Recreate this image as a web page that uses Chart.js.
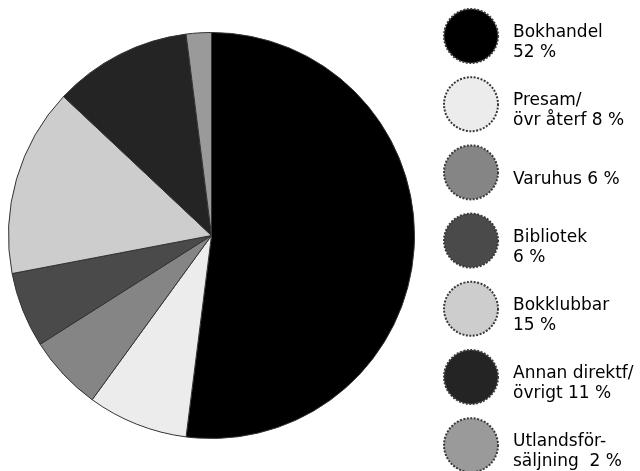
<!DOCTYPE html>
<html>
<head>
<meta charset="utf-8">
<script src="https://cdn.jsdelivr.net/npm/chart.js@4/dist/chart.umd.min.js"></script>
<style>
  html, body { margin: 0; padding: 0; background: #fff; }
  #wrap { position: relative; width: 640px; height: 471px; }
</style>
</head>
<body>
<div id="wrap"><canvas id="paj"></canvas></div>
<script>
// Data
const kategorier = ["Bokhandel", "Presam/övr återf", "Varuhus", "Bibliotek", "Bokklubbar", "Annan direktf/övrigt", "Utlandsförsäljning"];
const andelar = [52, 8, 6, 6, 15, 11, 2];
const etiketter = [
  ["Bokhandel", "52 %"],
  ["Presam/", "övr återf 8 %"],
  ["Varuhus 6 %"],
  ["Bibliotek", "6 %"],
  ["Bokklubbar", "15 %"],
  ["Annan direktf/", "övrigt 11 %"],
  ["Utlandsför-", "säljning  2 %"]
];
const farger = ["#000000", "#ececec", "#858585", "#4a4a4a", "#cdcdcd", "#242424", "#9a9a9a"];

// Legend ritad på canvas
const legendPlugin = {
  id: "sidLegend",
  afterDraw(chart) {
    const ctx = chart.ctx;
    const x = 471;
    const r = 27;
    ctx.save();
    etiketter.forEach((rader, i) => {
      const cy = 36 + i * 68.2;
      ctx.beginPath();
      ctx.arc(x, cy, r, 0, Math.PI * 2);
      ctx.fillStyle = farger[i];
      ctx.fill();
      ctx.lineWidth = 2;
      ctx.strokeStyle = "#3a3a3a";
      ctx.setLineDash([2, 1.5]);
      ctx.stroke();
      ctx.setLineDash([]);

      ctx.fillStyle = "#000";
      ctx.font = "17px 'DejaVu Sans'";
      ctx.textBaseline = "alphabetic";
      if (rader.length == 1) {
        ctx.fillText(rader[0], 513, cy + 12);
      } else {
        ctx.fillText(rader[0], 513, cy + 1);
        ctx.fillText(rader[1], 513, cy + 21);
      }
    });
    ctx.restore();
  }
};

new Chart(document.getElementById("paj"), {
  type: "pie",
  data: {
    labels: kategorier,
    datasets: [{
      data: andelar,
      backgroundColor: farger,
      borderColor: "#333",
      borderWidth: 1
    }]
  },
  options: {
    responsive: true,
    maintainAspectRatio: false,
    animation: false,
    layout: {
      padding: { left: 8, right: 225, top: 32, bottom: 32 }
    },
    plugins: {
      legend: { display: false },
      tooltip: { enabled: false }
    }
  },
  plugins: [legendPlugin]
});
</script>
</body>
</html>
